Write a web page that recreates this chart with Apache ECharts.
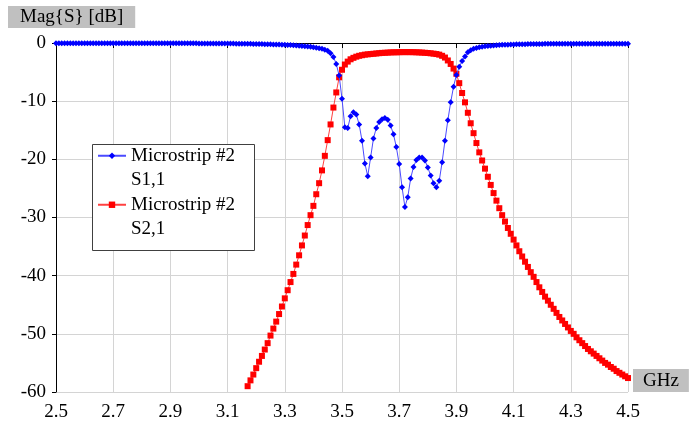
<!DOCTYPE html>
<html><head><meta charset="utf-8">
<script src="https://cdn.jsdelivr.net/npm/echarts@6/dist/echarts.min.js"></script>
<style>html,body{margin:0;padding:0;background:#fff}#c{width:697px;height:423px}</style>
</head><body><div id="c"></div>
<script>
// Frequency sweep (GHz)
const freqGHz = [
2.50,2.51,2.52,2.53,2.54,2.55,2.56,2.57,2.58,2.59,
2.60,2.61,2.62,2.63,2.64,2.65,2.66,2.67,2.68,2.69,
2.70,2.71,2.72,2.73,2.74,2.75,2.76,2.77,2.78,2.79,
2.80,2.81,2.82,2.83,2.84,2.85,2.86,2.87,2.88,2.89,
2.90,2.91,2.92,2.93,2.94,2.95,2.96,2.97,2.98,2.99,
3.00,3.01,3.02,3.03,3.04,3.05,3.06,3.07,3.08,3.09,
3.10,3.11,3.12,3.13,3.14,3.15,3.16,3.17,3.18,3.19,
3.20,3.21,3.22,3.23,3.24,3.25,3.26,3.27,3.28,3.29,
3.30,3.31,3.32,3.33,3.34,3.35,3.36,3.37,3.38,3.39,
3.40,3.41,3.42,3.43,3.44,3.45,3.46,3.47,3.48,3.49,
3.50,3.51,3.52,3.53,3.54,3.55,3.56,3.57,3.58,3.59,
3.60,3.61,3.62,3.63,3.64,3.65,3.66,3.67,3.68,3.69,
3.70,3.71,3.72,3.73,3.74,3.75,3.76,3.77,3.78,3.79,
3.80,3.81,3.82,3.83,3.84,3.85,3.86,3.87,3.88,3.89,
3.90,3.91,3.92,3.93,3.94,3.95,3.96,3.97,3.98,3.99,
4.00,4.01,4.02,4.03,4.04,4.05,4.06,4.07,4.08,4.09,
4.10,4.11,4.12,4.13,4.14,4.15,4.16,4.17,4.18,4.19,
4.20,4.21,4.22,4.23,4.24,4.25,4.26,4.27,4.28,4.29,
4.30,4.31,4.32,4.33,4.34,4.35,4.36,4.37,4.38,4.39,
4.40,4.41,4.42,4.43,4.44,4.45,4.46,4.47,4.48,4.49,
4.50];

// |S11| in dB
const s11dB = [
-0.03,-0.03,-0.03,-0.03,-0.03,-0.03,-0.03,-0.03,-0.03,-0.03,
-0.03,-0.03,-0.03,-0.03,-0.03,-0.03,-0.03,-0.03,-0.03,-0.03,
-0.03,-0.03,-0.03,-0.03,-0.03,-0.03,-0.03,-0.03,-0.03,-0.03,
-0.05,-0.05,-0.05,-0.05,-0.05,-0.05,-0.05,-0.05,-0.05,-0.05,
-0.05,-0.05,-0.05,-0.05,-0.05,-0.05,-0.05,-0.05,-0.05,-0.05,
-0.07,-0.07,-0.07,-0.07,-0.07,-0.07,-0.07,-0.07,-0.07,-0.07,
-0.09,-0.10,-0.10,-0.11,-0.12,-0.12,-0.13,-0.14,-0.15,-0.16,
-0.17,-0.18,-0.19,-0.20,-0.21,-0.22,-0.24,-0.25,-0.27,-0.29,
-0.31,-0.33,-0.36,-0.39,-0.42,-0.46,-0.50,-0.55,-0.60,-0.66,
-0.73,-0.81,-0.90,-1.00,-1.15,-1.35,-1.75,-2.4,-3.6,-5.6,
-9.6,-14.5,-14.6,-12.6,-11.9,-12.3,-14.0,-16.8,-20.7,-22.9,
-19.7,-16.4,-14.6,-13.6,-13.1,-12.9,-13.2,-14.2,-15.7,-17.9,
-20.8,-24.8,-28.2,-26.5,-23.3,-21.3,-20.1,-19.7,-19.7,-20.2,
-21.4,-22.8,-24.1,-24.8,-23.7,-20.5,-16.8,-13.3,-10.2,-7.5,
-5.5,-4.1,-3.1,-2.3,-1.6,-1.25,-1.0,-0.85,-0.74,-0.65,
-0.57,-0.51,-0.46,-0.42,-0.38,-0.35,-0.32,-0.30,-0.28,-0.26,
-0.24,-0.23,-0.22,-0.21,-0.20,-0.19,-0.18,-0.17,-0.17,-0.16,
-0.16,-0.15,-0.15,-0.15,-0.15,-0.15,-0.15,-0.15,-0.15,-0.15,
-0.15,-0.15,-0.15,-0.15,-0.15,-0.15,-0.15,-0.15,-0.15,-0.15,
-0.15,-0.15,-0.15,-0.15,-0.15,-0.15,-0.15,-0.15,-0.15,-0.15,
-0.15];

// |S21| in dB (below -60 dB not shown)
const s21dB = [
null,null,null,null,null,null,null,null,null,null,
null,null,null,null,null,null,null,null,null,null,
null,null,null,null,null,null,null,null,null,null,
null,null,null,null,null,null,null,null,null,null,
null,null,null,null,null,null,null,null,null,null,
null,null,null,null,null,null,null,null,null,null,
null,null,null,null,null,null,null,-59.0,-58.0,-57.0,
-55.9,-54.8,-53.8,-52.7,-51.6,-50.3,-49.1,-47.9,-46.6,-45.3,
-43.9,-42.5,-41.1,-39.7,-38.1,-36.5,-34.8,-33.1,-31.3,-29.6,
-28.0,-26.0,-24.1,-21.9,-19.4,-16.7,-14.0,-11.1,-8.5,-5.9,
-4.6,-3.7,-3.2,-2.8,-2.55,-2.35,-2.2,-2.1,-2.0,-1.95,
-1.9,-1.85,-1.8,-1.75,-1.7,-1.68,-1.65,-1.62,-1.6,-1.6,
-1.58,-1.57,-1.57,-1.57,-1.57,-1.58,-1.6,-1.62,-1.65,-1.68,
-1.72,-1.77,-1.83,-1.9,-2.0,-2.2,-2.5,-3.0,-3.6,-4.4,
-5.3,-6.9,-8.6,-10.2,-12.0,-13.8,-15.5,-17.2,-18.8,-20.2,
-21.6,-23.0,-24.4,-25.8,-27.1,-28.4,-29.6,-30.7,-31.8,-32.8,
-33.8,-34.8,-35.8,-36.7,-37.6,-38.5,-39.4,-40.2,-41.1,-42.0,
-42.8,-43.6,-44.3,-45.0,-45.7,-46.4,-47.1,-47.7,-48.3,-48.9,
-49.5,-50.0,-50.6,-51.1,-51.6,-52.1,-52.6,-53.0,-53.4,-53.8,
-54.2,-54.6,-55.0,-55.3,-55.7,-56.0,-56.4,-56.7,-57.0,-57.3,
-57.6];

const seriesNames = ['S1,1', 'S2,1'];
const legendPrefix = 'Microstrip #2';
const yTitle = 'Mag{S} [dB]';
const xTitle = 'GHz';

const FONT = 'Liberation Serif';
const pair = (vals) => freqGHz.map((f, i) => [f, vals[i]]);

const chart = echarts.init(document.getElementById('c'), null, {renderer: 'canvas'});
chart.setOption({
  animation: false,
  backgroundColor: '#fff',
  textStyle: {fontFamily: FONT},
  title: [{
    text: yTitle, left: 8, top: 6,
    backgroundColor: '#c0c0c0', padding: [2, 12, 1, 12],
    textStyle: {fontFamily: FONT, fontSize: 19, fontWeight: 'normal', color: '#000', lineHeight: 19}
  }, {
    text: xTitle, left: 633, top: 369,
    backgroundColor: '#c0c0c0', padding: [2, 10, 1, 10],
    textStyle: {fontFamily: FONT, fontSize: 19, fontWeight: 'normal', color: '#000', lineHeight: 20}
  }],
  grid: {left: 56, right: 69, top: 43, bottom: 31},
  xAxis: {
    type: 'value', min: 2.5, max: 4.5, interval: 0.2,
    axisLine: {show: true, lineStyle: {color: '#000', width: 1}},
    axisTick: {show: true, length: 5, lineStyle: {color: '#000'}},
    axisLabel: {fontFamily: FONT, fontSize: 19, color: '#000', margin: 11, formatter: v => v.toFixed(1)},
    splitLine: {show: true, lineStyle: {color: '#d4d4d4', width: 1}}
  },
  yAxis: {
    type: 'value', min: -60, max: 0, interval: 10,
    axisLine: {show: true, lineStyle: {color: '#000', width: 1}},
    axisTick: {show: true, length: 4, lineStyle: {color: '#000'}},
    axisLabel: {fontFamily: FONT, fontSize: 19, color: '#000', margin: 10},
    splitLine: {show: true, lineStyle: {color: '#d4d4d4', width: 1}}
  },
  legend: {
    orient: 'vertical', left: 97, top: 119, padding: 0, itemGap: -24.5,
    itemWidth: 28, itemHeight: 8, z: 5, selectedMode: false,
    formatter: n => ' \n' + legendPrefix + '\n' + n,
    textStyle: {fontFamily: FONT, fontSize: 19, color: '#000', lineHeight: 24.5},
    data: seriesNames
  },
  graphic: [{
    type: 'rect', z: 3, silent: true,
    shape: {x: 92.5, y: 144.5, width: 162, height: 106},
    style: {fill: '#fff', stroke: '#404040', lineWidth: 1}
  }],
  series: [
    {
      name: seriesNames[0], type: 'line', data: pair(s11dB),
      showSymbol: true, showAllSymbol: true, symbol: 'diamond', symbolSize: 6,
      lineStyle: {color: '#4a4aff', width: 1}, itemStyle: {color: '#0000ff'},
      emphasis: {disabled: true}, z: 3
    },
    {
      name: seriesNames[1], type: 'line', data: pair(s21dB), connectNulls: false,
      showSymbol: true, showAllSymbol: true, symbol: 'rect', symbolSize: 6,
      lineStyle: {color: '#ff4040', width: 1}, itemStyle: {color: '#ff0000'},
      emphasis: {disabled: true}, z: 2
    }
  ]
});
</script>
</body></html>
